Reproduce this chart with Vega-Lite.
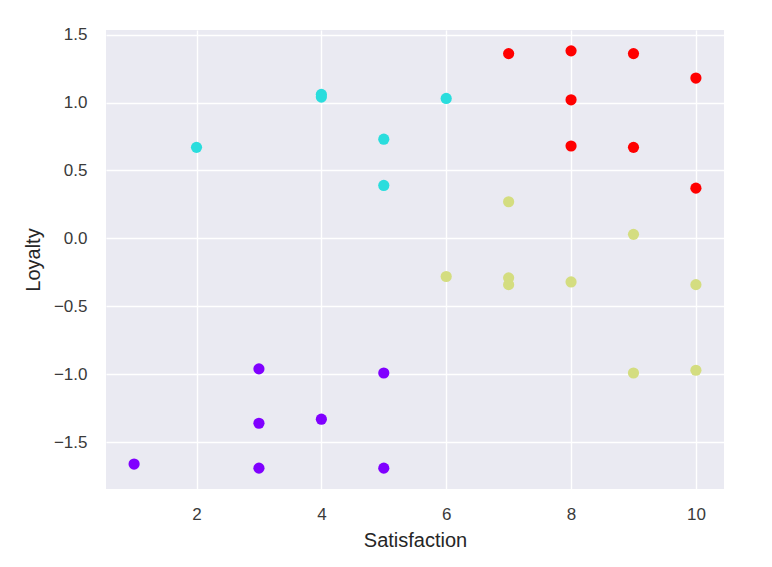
{
  "$schema": "https://vega.github.io/schema/vega-lite/v6.json",
  "width": 618,
  "height": 459,
  "autosize": {"type": "none"},
  "padding": {"left": 106, "top": 30, "right": 48, "bottom": 78},
  "background": "white",
  "config": {
    "view": {"fill": "#eaeaf2", "stroke": null},
    "font": "Liberation Sans",
    "axis": {
      "domain": false,
      "ticks": false,
      "grid": true,
      "gridColor": "white",
      "gridWidth": 1.4,
      "labelFont": "Liberation Sans",
      "labelFontSize": 17,
      "labelColor": "#3a3a3a",
      "titleFont": "Liberation Sans",
      "titleFontSize": 20,
      "titleFontWeight": "normal",
      "titleColor": "#262626"
    }
  },
  "data": {
    "values": [
      {"Satisfaction": 4, "Loyalty": -1.33, "cluster": "0"},
      {"Satisfaction": 6, "Loyalty": -0.28, "cluster": "2"},
      {"Satisfaction": 5, "Loyalty": -0.99, "cluster": "0"},
      {"Satisfaction": 7, "Loyalty": -0.29, "cluster": "2"},
      {"Satisfaction": 4, "Loyalty": 1.06, "cluster": "1"},
      {"Satisfaction": 1, "Loyalty": -1.66, "cluster": "0"},
      {"Satisfaction": 10, "Loyalty": -0.97, "cluster": "2"},
      {"Satisfaction": 8, "Loyalty": -0.32, "cluster": "2"},
      {"Satisfaction": 8, "Loyalty": 1.02, "cluster": "3"},
      {"Satisfaction": 8, "Loyalty": 0.68, "cluster": "3"},
      {"Satisfaction": 10, "Loyalty": -0.34, "cluster": "2"},
      {"Satisfaction": 5, "Loyalty": 0.39, "cluster": "1"},
      {"Satisfaction": 5, "Loyalty": -1.69, "cluster": "0"},
      {"Satisfaction": 2, "Loyalty": 0.67, "cluster": "1"},
      {"Satisfaction": 7, "Loyalty": 0.27, "cluster": "2"},
      {"Satisfaction": 9, "Loyalty": 1.36, "cluster": "3"},
      {"Satisfaction": 8, "Loyalty": 1.38, "cluster": "3"},
      {"Satisfaction": 7, "Loyalty": 1.36, "cluster": "3"},
      {"Satisfaction": 7, "Loyalty": -0.34, "cluster": "2"},
      {"Satisfaction": 9, "Loyalty": 0.67, "cluster": "3"},
      {"Satisfaction": 10, "Loyalty": 1.18, "cluster": "3"},
      {"Satisfaction": 3, "Loyalty": -1.69, "cluster": "0"},
      {"Satisfaction": 4, "Loyalty": 1.04, "cluster": "1"},
      {"Satisfaction": 3, "Loyalty": -0.96, "cluster": "0"},
      {"Satisfaction": 6, "Loyalty": 1.03, "cluster": "1"},
      {"Satisfaction": 9, "Loyalty": -0.99, "cluster": "2"},
      {"Satisfaction": 10, "Loyalty": 0.37, "cluster": "3"},
      {"Satisfaction": 9, "Loyalty": 0.03, "cluster": "2"},
      {"Satisfaction": 3, "Loyalty": -1.36, "cluster": "0"},
      {"Satisfaction": 5, "Loyalty": 0.73, "cluster": "1"}
    ]
  },
  "mark": {"type": "circle", "size": 125, "opacity": 1},
  "encoding": {
    "x": {
      "field": "Satisfaction",
      "type": "quantitative",
      "scale": {"domain": [0.55, 10.45], "nice": false, "zero": false},
      "axis": {"values": [2, 4, 6, 8, 10], "labelPadding": 17, "titlePadding": 8, "title": "Satisfaction"}
    },
    "y": {
      "field": "Loyalty",
      "type": "quantitative",
      "scale": {"domain": [-1.8435, 1.5335], "nice": false, "zero": false},
      "axis": {"values": [-1.5, -1.0, -0.5, 0.0, 0.5, 1.0, 1.5], "format": ".1f", "labelPadding": 19, "titlePadding": 10, "title": "Loyalty"}
    },
    "color": {
      "field": "cluster",
      "type": "nominal",
      "scale": {"domain": ["0", "1", "2", "3"], "range": ["#8000ff", "#2adddd", "#d4dd80", "#ff0000"]},
      "legend": null
    }
  }
}
